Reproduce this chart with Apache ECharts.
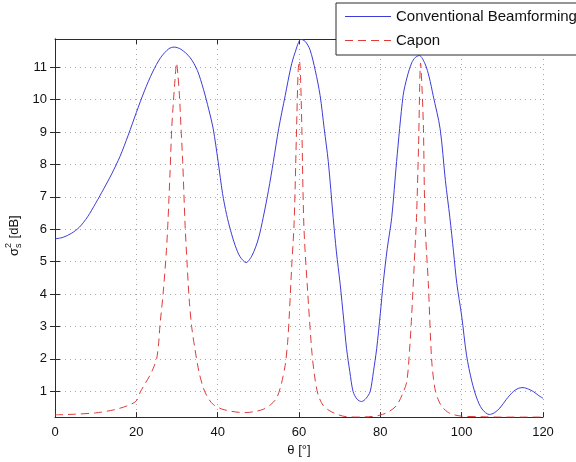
<!DOCTYPE html>
<html>
<head>
<meta charset="utf-8">
<script src="https://cdn.jsdelivr.net/npm/echarts@6/dist/echarts.min.js"></script>
<style>
  html, body { margin: 0; padding: 0; background: #fff; }
  #main { width: 576px; height: 462px; }
</style>
</head>
<body>
<div id="main"></div>
<script>
// angle grid and values
var convTheta = [0, 2, 4, 6, 8, 10, 12, 14, 16, 18, 20, 22, 24, 26, 28, 29.3, 31, 33.2, 35, 36.5, 37.8, 38.9, 40.1, 41.2, 42.2, 43.2, 44.3, 45.5, 47, 48.5, 50, 51.2, 52.5, 53.7, 55, 56.6, 58, 59, 60.5, 61.5, 62.7, 64, 65.2, 66.2, 67.2, 68.4, 69.2, 70.1, 71, 71.7, 72.5, 73.3, 74.3, 75.4, 76.5, 77.5, 78.3, 79.1, 80, 80.7, 81.7, 82.8, 84, 85.6, 86.6, 87.7, 88.6, 89.6, 91, 92, 93, 94.7, 96, 97.1, 98, 98.8, 100, 101.2, 102.5, 103.7, 105, 106.8, 108, 109.4, 111, 112.7, 114, 115.1, 116.5, 117.6, 119, 120]
var convVals = [5.7, 5.75, 5.87, 6.06, 6.38, 6.8, 7.25, 7.72, 8.25, 8.9, 9.6, 10.27, 10.85, 11.3, 11.57, 11.62, 11.55, 11.3, 10.9, 10.32, 9.7, 9.1, 8.1, 7.1, 6.45, 5.95, 5.5, 5.15, 4.97, 5.2, 5.7, 6.36, 7.2, 8.09, 9.1, 10.12, 11.0, 11.44, 11.86, 11.8, 11.54, 10.9, 10.12, 9.1, 8.09, 6.36, 5.3, 4.33, 3.2, 2.31, 1.6, 0.99, 0.75, 0.68, 0.78, 0.99, 1.6, 2.31, 3.4, 4.33, 5.4, 6.36, 8.09, 10.12, 10.7, 11.13, 11.3, 11.36, 11.1, 10.7, 10.12, 9.1, 7.5, 6.36, 5.3, 4.33, 3.32, 2.11, 1.3, 0.79, 0.45, 0.28, 0.33, 0.48, 0.75, 0.99, 1.09, 1.11, 1.06, 0.99, 0.86, 0.78]

var caponTheta = [0, 5, 10, 12.7, 15, 18, 20, 21, 22, 23.4, 24.3, 25, 25.5, 25.8, 26.6, 27.4, 27.8, 28.3, 28.7, 29.1, 29.5, 29.9, 30.2, 30.6, 31, 31.4, 32, 32.5, 33, 33.6, 34.4, 35.4, 36.5, 37.6, 38.9, 41, 43, 45, 47, 49, 51.2, 53, 54.5, 55.6, 56.6, 57.2, 57.6, 58.2, 58.8, 59.4, 59.8, 60.1, 60.4, 60.7, 61.2, 62, 63.1, 63.8, 64.7, 66, 67.6, 69.5, 71.7, 75, 78, 79.9, 82, 84, 85.4, 86.5, 87.2, 87.7, 88.5, 88.9, 89.4, 89.9, 90.3, 90.6, 91, 91.8, 92.6, 93.4, 94.2, 95.1, 96.5, 97.9, 100, 105, 110, 115, 120]
var caponVals = [0.27, 0.29, 0.33, 0.38, 0.44, 0.56, 0.7, 0.98, 1.2, 1.5, 1.75, 2.0, 2.5, 3.02, 4.03, 5.35, 6.3, 7.8, 9.1, 9.9, 10.6, 11.13, 10.8, 10.12, 9.1, 8.09, 6.1, 4.9, 3.84, 3.0, 2.31, 1.6, 1.09, 0.8, 0.59, 0.45, 0.39, 0.35, 0.34, 0.37, 0.44, 0.58, 0.79, 1.2, 1.8, 2.5, 3.32, 4.84, 6.2, 9.1, 10.9, 11.2, 10.6, 9.1, 6.1, 4.33, 2.31, 1.5, 0.89, 0.55, 0.39, 0.28, 0.21, 0.2, 0.22, 0.26, 0.36, 0.56, 0.9, 1.29, 2.3, 3.32, 5.35, 6.36, 8.6, 11.13, 10.2, 9.1, 6.2, 4.33, 2.0, 1.09, 0.75, 0.53, 0.36, 0.28, 0.23, 0.21, 0.2, 0.2, 0.2]

var yTicks = [1, 2, 3, 4, 5, 6, 7, 8, 9, 10, 11]

function pairs (xs, ys) {
  return xs.map(function (x, i) { return [x, ys[i]] })
}

var chart = echarts.init(document.getElementById('main'))
var font = 'Liberation Sans, Arial, sans-serif'
var axisCol = '#2b2b2b'
var blue = '#3c3cd8'
var red = '#e03a3a'
var gridLine = { show: true, lineStyle: { color: '#a8a8a8', type: [1, 4], width: 1 } }

// legend samples: a plain stroke and a dashed one
var solidIcon = 'path://M0,0h46v1h-46z'
var dashIcon = 'path://M0,0h8v1h-8z M13,0h8v1h-8z M26,0h8v1h-8z M39,0h7v1h-7z'

var option = {
  animation: false,
  grid: { left: 55, right: 33, top: 39, bottom: 39 },
  legend: {
    orient: 'vertical',
    left: 336,
    top: 3,
    padding: [6, 30, 7, 9],
    itemWidth: 46,
    itemHeight: 13,
    itemGap: 9,
    symbolKeepAspect: true,
    backgroundColor: '#fff',
    borderColor: axisCol,
    borderWidth: 1,
    textStyle: { fontFamily: font, fontSize: 15, color: '#111' },
    data: [
      { name: 'Conventional Beamforming', icon: solidIcon },
      { name: 'Capon', icon: dashIcon }
    ]
  },
  xAxis: [{
    type: 'value',
    min: 0,
    max: 120,
    interval: 20,
    name: 'θ [°]',
    nameLocation: 'middle',
    nameGap: 23,
    nameTextStyle: { fontFamily: font, fontSize: 13, color: '#111' },
    axisLine: { lineStyle: { color: axisCol } },
    axisTick: { inside: true, length: 5, lineStyle: { color: axisCol } },
    axisLabel: { fontFamily: font, fontSize: 13, color: '#111', margin: 9 },
    splitLine: gridLine
  }, {
    type: 'value',
    position: 'top',
    min: 0,
    max: 120,
    interval: 20,
    axisLine: { show: true, lineStyle: { color: axisCol } },
    axisTick: { inside: true, length: 5, lineStyle: { color: axisCol } },
    axisLabel: { show: false },
    splitLine: { show: false }
  }],
  yAxis: [{
    type: 'value',
    min: 0.2,
    max: 11.87,
    axisLine: { show: true, lineStyle: { color: axisCol } },
    axisTick: { show: true, inside: true, length: 5, customValues: yTicks, lineStyle: { color: axisCol } },
    axisLabel: { fontFamily: font, fontSize: 13, color: '#111', margin: 8, customValues: yTicks },
    splitLine: gridLine
  }, {
    type: 'value',
    position: 'right',
    min: 0.2,
    max: 11.87,
    axisLine: { show: true, lineStyle: { color: axisCol } },
    axisTick: { show: true, inside: true, length: 5, customValues: yTicks, lineStyle: { color: axisCol } },
    axisLabel: { show: false, customValues: yTicks },
    splitLine: { show: false }
  }],
  graphic: [{
    type: 'group',
    x: 14,
    y: 256,
    rotation: Math.PI / 2,
    children: [
      { type: 'text', x: 0, y: 0, style: { text: 'σ', font: '13px ' + font, fill: '#111', textVerticalAlign: 'middle' } },
      { type: 'text', x: 8, y: -5, style: { text: '2', font: '9px ' + font, fill: '#111', textVerticalAlign: 'middle' } },
      { type: 'text', x: 8, y: 5, style: { text: 's', font: '9px ' + font, fill: '#111', textVerticalAlign: 'middle' } },
      { type: 'text', x: 14, y: 0, style: { text: ' [dB]', font: '13px ' + font, fill: '#111', textVerticalAlign: 'middle' } }
    ]
  }],
  series: [{
    name: 'Conventional Beamforming',
    type: 'line',
    data: pairs(convTheta, convVals),
    showSymbol: false,
    symbol: 'none',
    smooth: 0.3,
    clip: true,
    lineStyle: { color: blue, width: 1 },
    itemStyle: { color: blue }
  }, {
    name: 'Capon',
    type: 'line',
    data: pairs(caponTheta, caponVals),
    showSymbol: false,
    symbol: 'none',
    smooth: 0.3,
    clip: true,
    lineStyle: { color: red, width: 1, type: [8, 5] },
    itemStyle: { color: red }
  }]
}

option && chart.setOption(option)
</script>
</body>
</html>
